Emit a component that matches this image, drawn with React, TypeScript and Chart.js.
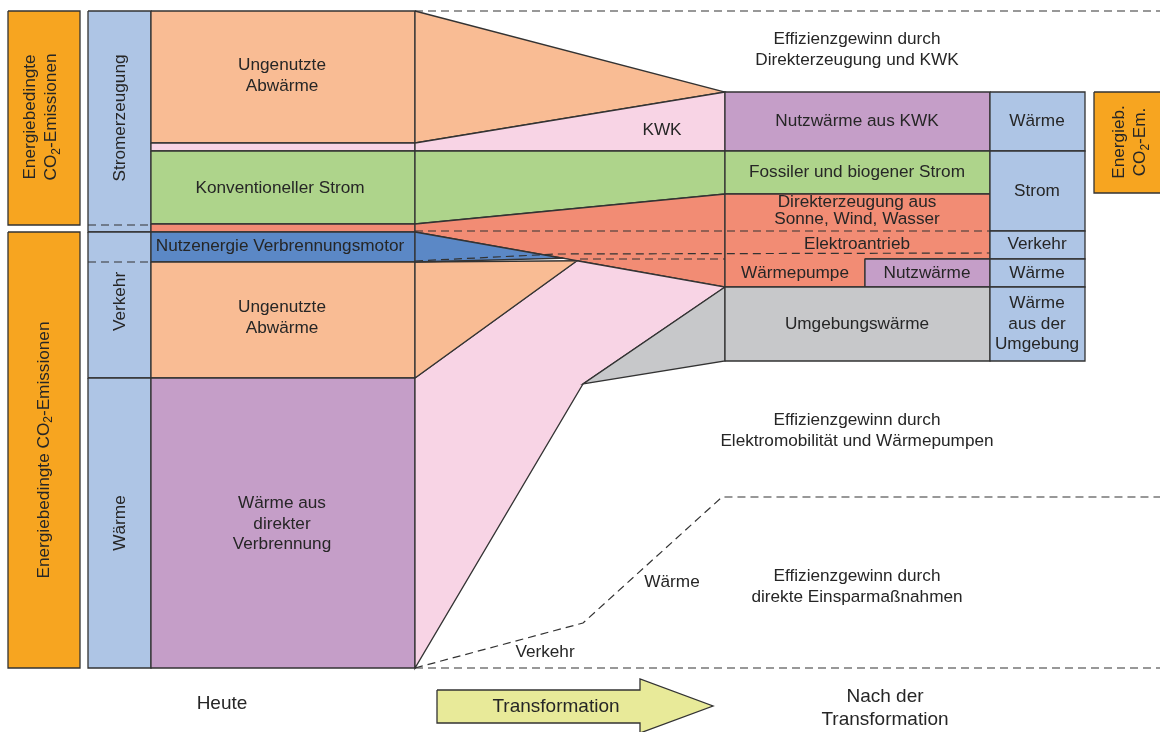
import React, { useEffect, useRef } from "react";
import { Chart, registerables } from "chart.js";

Chart.register(...registerables);

// ---------- DATA (diagram units, top → bottom) ----------
// "Heute" stack
const todayCategories = [
  "Ungenutzte Abwärme (Strom)",
  "KWK",
  "Konventioneller Strom",
  "Direkterzeugung",
  "Nutzenergie Verbrennungsmotor",
  "Ungenutzte Abwärme (Verkehr)",
  "Wärme aus direkter Verbrennung",
];
const todayValues = [132, 8, 73, 8, 30, 116, 290];
const todayColors = ["#F9BC94", "#F8D4E5", "#AED48B", "#F28C74", "#5B88C6", "#F9BC94", "#C59EC8"];

// sector column (Stromerzeugung / Verkehr / Wärme) boundaries
const sectorLabels = ["Stromerzeugung", "Verkehr", "Wärme"];
const sectorRanges = [
  [0, 214],
  [214, 367],
  [367, 657],
];
// emission boxes
const emissionRanges = [
  [0, 214],
  [221, 657],
];

// "Nach der Transformation" stack
const futureCategories = [
  "Nutzwärme aus KWK",
  "Fossiler und biogener Strom",
  "Direkterzeugung aus Sonne, Wind, Wasser",
  "Elektroantrieb",
  "Wärmepumpe / Nutzwärme",
  "Umgebungswärme",
];
const futureOffset = 81;
const futureValues = [59, 43, 37, 28, 28, 74];
const futureSectorLabels = ["Wärme", "Strom", "Verkehr", "Wärme", "Wärme aus der Umgebung"];
const futureSectorValues = [59, 80, 28, 28, 74];

// efficiency gain boundary (Verkehr / Wärme savings)
const savingsX = [415, 583, 722, 1160];
const savingsY = [657, 612, 486, 486];

// ---------- LAYOUT ----------
const X_CO2 = [8, 80];
const X_SECTOR = [88, 151];
const X_LEFT = [151, 415];
const X_RIGHT = [725, 990];
const X_RLABEL = [990, 1085];
const X_RCO2 = [1094, 1166];
const X_PUMP_SPLIT = 865;
const X_BLUE_TIP = 563;
const X_ORANGE_TIP = 577;
const GRAY_TIP = [583, 373];

const STROKE = "#333333";
const TEXT = "#262626";
const FONT = "'Liberation Sans', Arial, Helvetica, sans-serif";
const BASE = 17.2;

const cum = (vals: number[], start = 0) => {
  const out = [start];
  vals.forEach((v) => out.push(out[out.length - 1] + v));
  return out;
};

type Pt = [number, number];
const rect = (x0: number, x1: number, y0: number, y1: number): Pt[] => [
  [x0, y0],
  [x1, y0],
  [x1, y1],
  [x0, y1],
  [x0, y0],
];
const close = (p: Pt[]): Pt[] => [...p, p[0]];

type Label = {
  lines: string[];
  x: number;
  y: number;
  size?: number;
  lh?: number;
  rot?: boolean;
};

export default function App() {
  const ref = useRef<HTMLCanvasElement>(null);

  useEffect(() => {
    document.body.style.margin = "0";
    document.body.style.overflow = "hidden";
    const b = cum(todayValues);
    const r = cum(futureValues, futureOffset);
    const rs = cum(futureSectorValues, futureOffset);
    const [XL0, XL1] = X_LEFT;
    const [XR0, XR1] = X_RIGHT;

    const lineY = (x: number) => b[4] + ((x - XL1) / (XR0 - XL1)) * (r[5] - b[4]);

    const shapes: { pts: Pt[]; color: string | null; dash?: boolean; width?: number }[] = [];
    const orange = "#F7A520";
    const sectorBlue = "#AEC5E5";

    emissionRanges.forEach(([a, c]) => shapes.push({ pts: rect(X_CO2[0], X_CO2[1], a, c), color: orange }));
    shapes.push({ pts: rect(X_SECTOR[0], X_SECTOR[1], 0, b[4]), color: sectorBlue });
    shapes.push({ pts: rect(X_SECTOR[0], X_SECTOR[1], b[4], b[6]), color: sectorBlue });
    shapes.push({ pts: rect(X_SECTOR[0], X_SECTOR[1], b[6], b[7]), color: sectorBlue });
    todayValues.forEach((_, i) => shapes.push({ pts: rect(XL0, XL1, b[i], b[i + 1]), color: todayColors[i] }));

    // flows
    shapes.push({ pts: close([[XL1, b[0]], [XR0, r[0]], [XL1, b[1]]]), color: todayColors[0] });
    shapes.push({ pts: close([[XL1, b[1]], [XR0, r[0]], [XR0, r[1]], [XL1, b[2]]]), color: todayColors[1] });
    shapes.push({ pts: close([[XL1, b[2]], [XR0, r[1]], [XR0, r[2]], [XL1, b[3]]]), color: todayColors[2] });
    shapes.push({ pts: close([[XL1, b[3]], [XR0, r[2]], [XR0, r[5]], [XL1, b[4]]]), color: todayColors[3] });
    shapes.push({
      pts: close([[XL1, b[6]], [X_ORANGE_TIP, lineY(X_ORANGE_TIP)], [XR0, r[5]], GRAY_TIP as Pt, [XL1, b[7]]]),
      color: "#F8D4E5",
    });
    shapes.push({ pts: close([[XL1, b[5]], [X_ORANGE_TIP, lineY(X_ORANGE_TIP)], [XL1, b[6]]]), color: todayColors[5] });
    shapes.push({ pts: close([[XR0, r[5]], [XR0, r[6]], GRAY_TIP as Pt]), color: "#C7C8CA" });
    shapes.push({ pts: close([[XL1, b[4]], [X_BLUE_TIP, lineY(X_BLUE_TIP)], [XL1, b[5]]]), color: todayColors[4] });

    // right stack
    shapes.push({ pts: rect(XR0, XR1, r[0], r[1]), color: "#C59EC8" });
    shapes.push({ pts: rect(XR0, XR1, r[1], r[2]), color: "#AED48B" });
    shapes.push({
      pts: close([[XR0, r[2]], [XR1, r[2]], [XR1, r[4]], [X_PUMP_SPLIT, r[4]], [X_PUMP_SPLIT, r[5]], [XR0, r[5]]]),
      color: "#F28C74",
    });
    shapes.push({ pts: rect(X_PUMP_SPLIT, XR1, r[4], r[5]), color: "#C59EC8" });
    shapes.push({ pts: rect(XR0, XR1, r[5], r[6]), color: "#C7C8CA" });
    futureSectorValues.forEach((_, i) =>
      shapes.push({ pts: rect(X_RLABEL[0], X_RLABEL[1], rs[i], rs[i + 1]), color: sectorBlue })
    );
    shapes.push({ pts: rect(X_RCO2[0], X_RCO2[1], r[0], r[0] + 101), color: orange });

    // arrow
    shapes.push({
      pts: close([[437, 679], [640, 679], [640, 668], [713, 695], [640, 722], [640, 712], [437, 712]]),
      color: "#E8EA99",
    });

    // dashed lines
    const dashes: Pt[][] = [
      [[XL1, b[0]], [1160, b[0]]],
      [[XL1, b[7]], [1160, b[7]]],
      savingsX.map((x, i) => [x, savingsY[i]] as Pt),
      [[XL1, 220], [XR1, 220]],
      [[XL1, 250], [557, 243], [XR1, 242]],
      [[580, 248], [XR0, 248]],
      [[X_SECTOR[0], 214], [X_SECTOR[1], 214]],
      [[X_SECTOR[0], b[5]], [X_SECTOR[1], b[5]]],
    ];
    dashes.forEach((d) => shapes.push({ pts: d, color: null, dash: true }));

    const n = shapes.length;
    const datasets = shapes.map((s, i) => ({
      data: s.pts.map(([x, y]) => ({ x, y })),
      fill: s.color ? ("shape" as any) : false,
      backgroundColor: s.color || "transparent",
      borderColor: STROKE,
      borderWidth: s.dash ? 1.2 : 1.3,
      borderDash: s.dash ? [8, 5] : [],
      pointRadius: 0,
      tension: 0,
      order: n - i,
    }));

    const labels: Label[] = [
      { lines: ["Ungenutzte", "Abwärme"], x: 282, y: 65 },
      { lines: ["Konventioneller Strom"], x: 280, y: 177 },
      { lines: ["Nutzenergie Verbrennungsmotor"], x: 280, y: 235 },
      { lines: ["Ungenutzte", "Abwärme"], x: 282, y: 307 },
      { lines: ["Wärme aus", "direkter", "Verbrennung"], x: 282, y: 513 },
      ...sectorLabels.map((s, i) => ({
        lines: [s],
        x: 120,
        y: (sectorRanges[i][0] + sectorRanges[i][1]) / 2,
        rot: true,
      })),
      { lines: ["Energiebedingte", "CO_2-Emissionen"], x: 41, y: 106, rot: true },
      { lines: ["Energiebedingte CO_2-Emissionen"], x: 44, y: 439, rot: true },
      { lines: ["Energieb.", "CO_2-Em."], x: 1130, y: 131, rot: true },
      { lines: ["KWK"], x: 662, y: 119 },
      { lines: ["Effizienzgewinn durch", "Direkterzeugung und KWK"], x: 857, y: 39 },
      { lines: ["Effizienzgewinn durch", "Elektromobilität und Wärmepumpen"], x: 857, y: 420 },
      { lines: ["Effizienzgewinn durch", "direkte Einsparmaßnahmen"], x: 857, y: 576 },
      { lines: ["Wärme"], x: 672, y: 571 },
      { lines: ["Verkehr"], x: 545, y: 641 },
      { lines: ["Nutzwärme aus KWK"], x: 857, y: 110 },
      { lines: ["Fossiler und biogener Strom"], x: 857, y: 161 },
      { lines: ["Direkterzeugung aus", "Sonne, Wind, Wasser"], x: 857, y: 200, lh: 16.5 },
      { lines: ["Elektroantrieb"], x: 857, y: 233 },
      { lines: ["Wärmepumpe"], x: 795, y: 262 },
      { lines: ["Nutzwärme"], x: 927, y: 262 },
      { lines: ["Umgebungswärme"], x: 857, y: 313 },
      { lines: ["Wärme"], x: 1037, y: 110 },
      { lines: ["Strom"], x: 1037, y: 180 },
      { lines: ["Verkehr"], x: 1037, y: 233 },
      { lines: ["Wärme"], x: 1037, y: 262 },
      { lines: ["Wärme", "aus der", "Umgebung"], x: 1037, y: 313 },
      { lines: ["Heute"], x: 222, y: 693, size: 19 },
      { lines: ["Transformation"], x: 556, y: 696, size: 19 },
      { lines: ["Nach der", "Transformation"], x: 885, y: 697, size: 19, lh: 23 },
    ];

    const drawRich = (ctx: CanvasRenderingContext2D, text: string, size: number) => {
      const parts = text.split(/_(\d)/);
      const segs = parts.map((t, i) => ({ t, sub: i % 2 === 1 }));
      const font = (sub: boolean) => `${sub ? Math.round(size * 0.68) : size}px ${FONT}`;
      let total = 0;
      segs.forEach((s) => {
        ctx.font = font(s.sub);
        total += ctx.measureText(s.t).width;
      });
      let x = -total / 2;
      ctx.textAlign = "left";
      segs.forEach((s) => {
        ctx.font = font(s.sub);
        ctx.fillText(s.t, x, s.sub ? size * 0.3 : 0);
        x += ctx.measureText(s.t).width;
      });
    };

    const textPlugin = {
      id: "diagramText",
      afterDatasetsDraw(chart: any) {
        const ctx: CanvasRenderingContext2D = chart.ctx;
        const xs = chart.scales.x;
        const ys = chart.scales.y;
        ctx.save();
        ctx.fillStyle = TEXT;
        ctx.textBaseline = "middle";
        labels.forEach((l) => {
          const size = l.size || BASE;
          const lh = l.lh || 20.5;
          const px = xs.getPixelForValue(l.x);
          const py = ys.getPixelForValue(l.y);
          ctx.save();
          ctx.translate(px, py);
          if (l.rot) ctx.rotate(-Math.PI / 2);
          l.lines.forEach((line, i) => {
            ctx.save();
            ctx.translate(0, (i - (l.lines.length - 1) / 2) * lh);
            drawRich(ctx, line, size);
            ctx.restore();
          });
          ctx.restore();
        });
        ctx.restore();
      },
    };

    const chart = new Chart(ref.current!, {
      type: "line",
      data: { datasets: datasets as any },
      options: {
        animation: false,
        responsive: false,
        maintainAspectRatio: false,
        events: [],
        layout: { padding: 0 },
        plugins: { legend: { display: false }, tooltip: { enabled: false } },
        scales: {
          x: { type: "linear", min: 0, max: 1160, display: false },
          y: { type: "linear", min: -11, max: 721, reverse: true, display: false },
        },
      },
      plugins: [textPlugin],
    });
    return () => chart.destroy();
  }, []);

  return <canvas ref={ref} width={1160} height={732} style={{ display: "block" }} />;
}
